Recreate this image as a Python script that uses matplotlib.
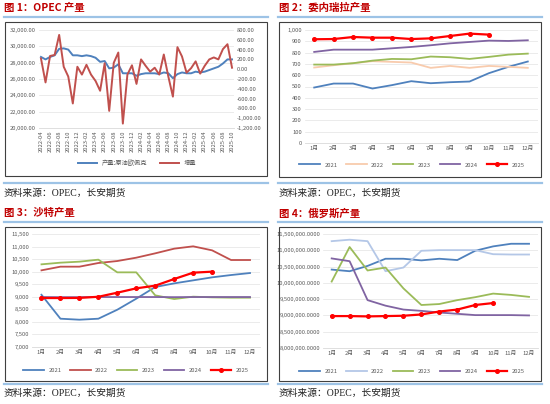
import matplotlib
matplotlib.use("Agg")
import matplotlib.pyplot as plt
import numpy as np
from matplotlib.patches import Rectangle
from matplotlib.lines import Line2D
from matplotlib.ticker import FuncFormatter

plt.rcParams['font.family'] = ['Noto Sans CJK SC', 'DejaVu Sans']

# ---- data ----
opec_months = [f"{y}-{m:02d}" for y in (2022, 2023, 2024, 2025) for m in range(1, 13)][3:46]
opec_prod = [28700, 28400, 28700, 28900, 29700, 29750, 29600, 28900, 28900,
             28800, 28900, 28800, 28600, 28100, 28200, 27300, 27400, 27800, 26700, 26700, 26700,
             26400, 26600, 26700, 26700, 26700, 26600, 26800, 26700, 26100, 26600, 26800, 26700,
             26700, 26900, 26800, 26900, 27100, 27300, 27500, 27900, 28400, 28400]
opec_change = [220, -270, 270, 290, 700, 50, -150, -700, 50,
               -110, 90, -110, -240, -440, 120, -850, 130, 340, -1110, -110, 80,
               -300, 200, 70, -50, 30, -110, 300, -150, -560, 450, 260, -70,
               20, 160, -90, 70, 200, 240, 200, 410, 510, 30]

months = [f"{i}月" for i in range(1, 13)]
years = ["2021", "2022", "2023", "2024", "2025"]

ven = {
    "2021": [491, 526, 526, 482, 512, 547, 529, 538, 544, 618, 674, 721],
    "2022": [668, 688, 706, 724, 718, 712, 665, 682, 665, 682, 674, 665],
    "2023": [694, 694, 706, 729, 744, 741, 765, 759, 744, 762, 782, 791],
    "2024": [806, 826, 826, 826, 838, 850, 865, 882, 894, 906, 903, 909],
    "2025": [918, 920, 938, 932, 932, 920, 926, 947, 968, 959],
}
saudi = {
    "2021": [9080, 8127, 8087, 8127, 8485, 8924, 9389, 9534, 9654, 9774, 9866, 9946],
    "2022": [10053, 10199, 10199, 10345, 10424, 10557, 10730, 10916, 11009, 10849, 10464, 10464],
    "2023": [10292, 10358, 10398, 10478, 9973, 9973, 9057, 8910, 9004, 8977, 8964, 8964],
    "2024": [8990, 8985, 8985, 8990, 8990, 8990, 8990, 8985, 8990, 8990, 8990, 8990],
    "2025": [8950, 8950, 8955, 9000, 9163, 9336, 9442, 9708, 9960, 10000],
}
russia = {
    "2021": [10408000, 10357000, 10520000, 10740000, 10740000, 10690000, 10740000, 10700000, 10985000, 11120000, 11200000, 11200000],
    "2022": [11280000, 11325000, 11280000, 10357000, 10470000, 10985000, 11005000, 11005000, 11005000, 10880000, 10870000, 10870000],
    "2023": [10040000, 11100000, 10380000, 10470000, 9830000, 9320000, 9350000, 9470000, 9560000, 9670000, 9630000, 9570000],
    "2024": [10750000, 10665000, 9470000, 9300000, 9180000, 9140000, 9090000, 9050000, 9010000, 9010000, 9010000, 9000000],
    "2025": [8980000, 8980000, 8970000, 8980000, 8990000, 9030000, 9120000, 9180000, 9320000, 9380000],
}

# ---- figure helpers (pixel coordinates, y from top) ----
W, H = 550, 404
fig = plt.figure(figsize=(W / 100, H / 100), dpi=100)

def add_ax(x0, y0, x1, y1):
    return fig.add_axes([x0 / W, 1 - y1 / H, (x1 - x0) / W, (y1 - y0) / H])

def rule(x0, x1, y):
    fig.add_artist(Line2D([x0 / W, x1 / W], [1 - y / H, 1 - y / H], color='#9DC3E6', lw=1.6))

def frame(x0, y0, x1, y1):
    fig.add_artist(Rectangle((x0 / W, 1 - y1 / H), (x1 - x0) / W, (y1 - y0) / H,
                             fill=False, edgecolor='#404040', lw=0.8))

def header(x, y_title, y_rule1, box, y_rule2, y_src, title):
    fig.text(x / W, 1 - y_title / H, title, color='#C00000', fontsize=7.5,
             fontweight='bold', va='center', ha='left')
    rule(box[0] - 1, box[2] + 1, y_rule1)
    frame(*box)
    rule(box[0] - 1, box[2] + 1, y_rule2)
    fig.text(x / W, 1 - y_src / H, "资料来源：OPEC，长安期货", color='#222222',
             fontsize=7, va='center', ha='left',
             family=['Liberation Serif', 'Noto Sans CJK SC'])

def style_ax(ax):
    for s in ['top', 'right', 'left']:
        ax.spines[s].set_visible(False)
    ax.spines['bottom'].set_color('#D9D9D9')
    ax.spines['bottom'].set_linewidth(0.6)
    ax.grid(axis='y', color='#E3E3E3', lw=0.5)
    ax.set_axisbelow(True)
    ax.tick_params(length=0, labelsize=4.2, labelcolor='#595959', pad=2)
    ax.set_facecolor('none')

header(4, 8, 17, (5, 22, 267, 176), 183, 193, "图 1：OPEC 产量")
header(279, 8, 17, (279, 22, 541, 177), 183, 193, "图 2：委内瑞拉产量")
header(4, 213, 222, (5, 227, 267, 381), 384, 393, "图 3：沙特产量")
header(279, 213, 222, (279, 227, 541, 381), 384, 393, "图 4：俄罗斯产量")

# ---- panel 1: OPEC ----
ax1 = add_ax(38.7, 30, 234.3, 128)
style_ax(ax1)
x = np.arange(len(opec_months))
ax1.plot(x, opec_prod, color='#4F81BD', lw=1.4, label='产量:原油欧佩克')
ax1.set_ylim(20000, 32000)
ax1.set_yticks(np.arange(20000, 32001, 2000))
ax1.yaxis.set_major_formatter(FuncFormatter(lambda v, p: f"{v:,.2f}"))
ax1.set_xlim(-0.5, len(x) - 0.5)
ax1.set_xticks(x[::2])
ax1.set_xticklabels(opec_months[::2], rotation=90, ha='center', va='top')
ax1b = ax1.twinx()
ax1b.plot(x, opec_change, color='#C0504D', lw=1.4, label='增量')
ax1b.set_ylim(-1200, 800)
ax1b.set_yticks(np.arange(-1200, 801, 200))
ax1b.yaxis.set_major_formatter(FuncFormatter(lambda v, p: f"{v:,.2f}"))
for s in ax1b.spines.values():
    s.set_visible(False)
ax1b.tick_params(length=0, labelsize=4.2, labelcolor='#595959', pad=2)
h1, l1 = ax1.get_legend_handles_labels()
h2, l2 = ax1b.get_legend_handles_labels()
ax1.legend(h1 + h2, l1 + l2, loc='center', bbox_to_anchor=(137 / W, 1 - 163 / H),
           bbox_transform=fig.transFigure, ncol=2, frameon=False, fontsize=4.5,
           handlelength=3, columnspacing=2, labelcolor='#595959')

def yearly_panel(ax, data, colors, ylim, step, fmt, leg_xy):
    style_ax(ax)
    for yr in years:
        vals = data[yr]
        if yr == "2025":
            ax.plot(range(len(vals)), vals, color=colors[yr], lw=1.6, marker='o',
                    markersize=2.6, label=yr, zorder=5)
        else:
            ax.plot(range(len(vals)), vals, color=colors[yr], lw=1.3, label=yr)
    ax.set_xlim(-0.5, 11.5)
    ax.set_xticks(range(12))
    ax.set_xticklabels(months)
    ax.set_ylim(*ylim)
    ax.set_yticks(np.arange(ylim[0], ylim[1] + 1, step))
    ax.yaxis.set_major_formatter(FuncFormatter(fmt))
    ax.legend(loc='center', bbox_to_anchor=(leg_xy[0] / W, 1 - leg_xy[1] / H),
              bbox_transform=fig.transFigure, ncol=5, frameon=False, fontsize=4.2,
              handlelength=3.5, columnspacing=1.5, labelcolor='#595959')

# ---- panel 2: Venezuela ----
ax2 = add_ax(304.5, 30, 537.5, 143)
yearly_panel(ax2, ven,
             {"2021": '#4F81BD', "2022": '#F8CBAD', "2023": '#9BBB59',
              "2024": '#8064A2', "2025": '#FF0000'},
             (0, 1000), 100, lambda v, p: f"{v:,.0f}", (412, 165))

# ---- panel 3: Saudi ----
ax3 = add_ax(32, 234, 259.5, 347)
yearly_panel(ax3, saudi,
             {"2021": '#4F81BD', "2022": '#C0504D', "2023": '#9BBB59',
              "2024": '#8064A2', "2025": '#FF0000'},
             (7000, 11500), 500, lambda v, p: f"{v:,.0f}", (136, 370))

# ---- panel 4: Russia ----
ax4 = add_ax(322.7, 234, 538, 348)
yearly_panel(ax4, russia,
             {"2021": '#4F81BD', "2022": '#B4C7E7', "2023": '#9BBB59',
              "2024": '#8064A2', "2025": '#FF0000'},
             (8000000, 11500000), 500000, lambda v, p: f"{v:,.4f}", (412, 371))

fig.savefig("out.png", dpi=100)
